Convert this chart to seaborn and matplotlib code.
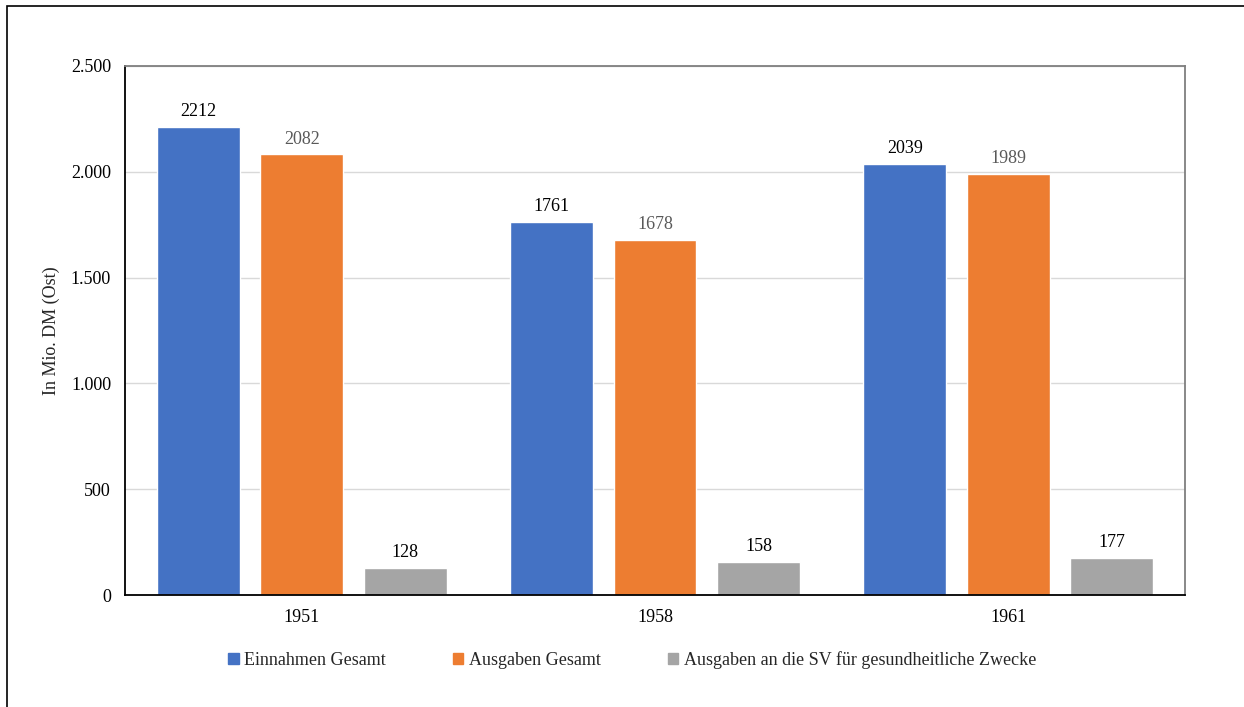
import matplotlib
matplotlib.use("Agg")
import matplotlib.pyplot as plt
import matplotlib.patches as mpatches
from matplotlib.ticker import FuncFormatter
import seaborn as sns
import pandas as pd

years = ["1951", "1958", "1961"]
series = ["Einnahmen Gesamt", "Ausgaben Gesamt",
          "Ausgaben an die SV für gesundheitliche Zwecke"]
einnahmen = [2212, 1761, 2039]
ausgaben = [2082, 1678, 1989]
ausgaben_sv = [128, 158, 177]
colors = ["#4472C4", "#ED7D31", "#A5A5A5"]
label_colors = ["#000000", "#595959", "#000000"]

df = pd.DataFrame({
    "Jahr": years * 3,
    "Serie": [series[0]] * 3 + [series[1]] * 3 + [series[2]] * 3,
    "Wert": einnahmen + ausgaben + ausgaben_sv,
})

sns.set_theme(style="white")
plt.rcParams["font.family"] = ["Liberation Serif", "DejaVu Serif"]

fig = plt.figure(figsize=(12.44, 7.07), dpi=100)
ax = fig.add_axes([125 / 1244, 1 - 595 / 707, 1060 / 1244, 529 / 707])

sns.barplot(data=df, x="Jahr", y="Wert", hue="Serie", order=years,
            hue_order=series, palette=colors, width=0.879, gap=0.2,
            saturation=1, ax=ax, legend=False, errorbar=None)

for cont, lc in zip(ax.containers, label_colors):
    ax.bar_label(cont, labels=[f"{int(v)}" for v in cont.datavalues],
                 padding=5, fontsize=13, color=lc)

ax.set_ylim(0, 2500)
ax.set_yticks([0, 500, 1000, 1500, 2000, 2500])
ax.yaxis.set_major_formatter(FuncFormatter(lambda v, p: f"{int(v):,}".replace(",", ".")))
ax.grid(axis="y", color="#D9D9D9", linewidth=1)
ax.set_axisbelow(True)
ax.tick_params(axis="y", labelsize=13, length=0, pad=10, colors="#000000")
ax.tick_params(axis="x", labelsize=13, length=0, pad=10, colors="#000000")
ax.set_xlabel("")
ax.set_ylabel("In Mio. DM (Ost)", fontsize=13, labelpad=8)

for side in ["left", "bottom"]:
    ax.spines[side].set_color("#000000")
    ax.spines[side].set_linewidth(1.3)
for side in ["top", "right"]:
    ax.spines[side].set_color("#7F7F7F")
    ax.spines[side].set_linewidth(1.3)
    ax.spines[side].set_visible(True)

handles = [mpatches.Patch(color=c, label=s) for c, s in zip(colors, series)]
fig.legend(handles=handles, loc="center", bbox_to_anchor=(632 / 1244, 1 - 660 / 707),
           ncol=3, frameon=False, fontsize=13, handlelength=0.6, handleheight=0.6,
           handletextpad=0.3, columnspacing=3.7)

# outer chart frame
frame = mpatches.Rectangle((7 / 1244, -0.1), 1.2, 1 - 6 / 707 + 0.1,
                           transform=fig.transFigure, fill=False,
                           edgecolor="#000000", linewidth=1.2)
fig.patches.append(frame)

fig.savefig("out.png", dpi=100)
